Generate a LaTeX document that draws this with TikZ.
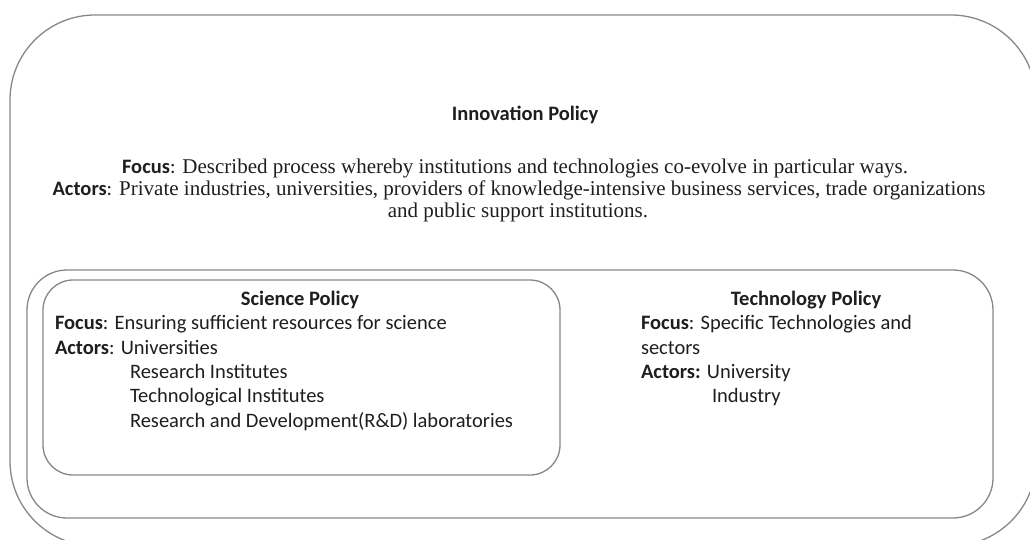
\documentclass[tikz,border=0pt]{standalone}
\usepackage{fontspec}
\setmainfont{Liberation Serif}
\newfontfamily\calfont{Carlito}
\definecolor{linegray}{RGB}{135,135,135}
\definecolor{txt}{RGB}{30,30,30}
\tikzset{
  frame/.style={draw=linegray, line width=1.3pt},
  lbl/.style={inner sep=0pt, outer sep=0pt, text=txt, font=\fontsize{21}{24}\selectfont},
  cal/.style={lbl, font=\calfont\fontsize{20.5}{24}\selectfont},
}
\newcommand{\bk}[1]{{\calfont\fontsize{20.5}{24}\selectfont\bfseries #1}}
\begin{document}
\begin{tikzpicture}[x=1pt,y=-1pt]
\useasboundingbox (0,0) rectangle (1030,540);
\clip (0,0) rectangle (1030,540);
\draw[frame, rounded corners=85pt] (10,15) rectangle (1036,546);
\draw[frame, rounded corners=40pt] (27,270) rectangle (993,518);
\draw[frame, rounded corners=30pt] (43,280) rectangle (560,475);

\node[cal, anchor=base] (ip) at (525,121) {\bfseries Innovation Policy};
\node[lbl, anchor=base] (ipf) at (515,174) {\bk{Focus}{\calfont\fontsize{20.5}{24}\selectfont:} Described process whereby institutions and technologies co-evolve in particular ways.};
\node[lbl, anchor=base] (ipa) at (519,196) {\bk{Actors}{\calfont\fontsize{20.5}{24}\selectfont:} Private industries, universities, providers of knowledge-intensive business services, trade organizations};
\node[lbl, anchor=base] (ipa2) at (518,218) {and public support institutions.};

\node[cal, anchor=base] (sp) at (300,305) {\bfseries Science Policy};
\node[cal, anchor=base west] (spf) at (55,329) {\textbf{Focus}: Ensuring sufficient resources for science};
\node[cal, anchor=base west] (spa) at (55,354) {\textbf{Actors}: Universities};
\node[cal, anchor=base west] (spa2) at (130,378) {Research Institutes};
\node[cal, anchor=base west] (spa3) at (130,402) {Technological Institutes};
\node[cal, anchor=base west] (spa4) at (130,427) {Research and Development(R\&D) laboratories};

\node[cal, anchor=base] (tp) at (806,305) {\bfseries Technology Policy};
\node[cal, anchor=base west] (tpf) at (641,329) {\textbf{Focus}: Specific Technologies and};
\node[cal, anchor=base west] (tpf2) at (641,354) {sectors};
\node[cal, anchor=base west] (tpa) at (641,378) {\textbf{Actors:} University};
\node[cal, anchor=base west] (tpa2) at (712,402) {Industry};
\end{tikzpicture}
\end{document}
